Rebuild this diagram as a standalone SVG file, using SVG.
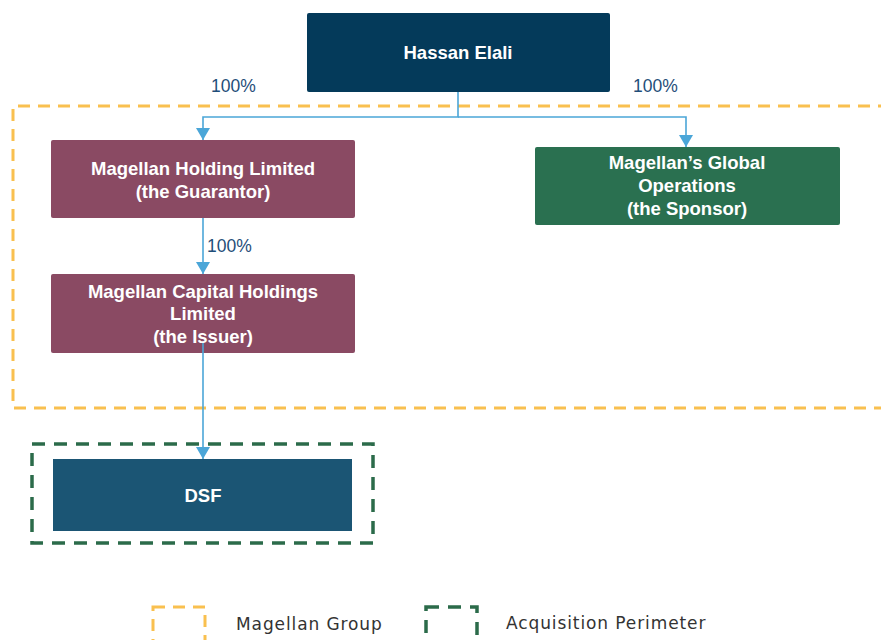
<svg xmlns="http://www.w3.org/2000/svg" width="881" height="640" viewBox="0 0 881 640">
<defs>
<style>
.box{stroke:none}
.t{font-family:"Liberation Sans",Arial,sans-serif;font-weight:bold;font-size:18.5px;fill:#fff;text-anchor:middle}
.pct{font-family:"Liberation Sans",Arial,sans-serif;font-size:17.5px;fill:#1F4E79}
.leg{font-family:"DejaVu Sans",sans-serif;font-size:17px;letter-spacing:0.9px;fill:#333}
.conn{fill:none;stroke:#4BA6D8;stroke-width:1.6}
.og{fill:none;stroke:#F9C04F;stroke-width:3;stroke-dasharray:12 8}
.gg{fill:none;stroke:#2B6B4A;stroke-width:3.5;stroke-dasharray:13 9}
</style>
<marker id="ah2" viewBox="0 0 12 14" refX="12" refY="7" markerWidth="12" markerHeight="14" markerUnits="userSpaceOnUse" orient="auto">
<path d="M0,0 L12,7 L0,14 z" fill="#4BA6D8"/>
</marker>
</defs>
<rect width="881" height="640" fill="#fff"/>
<g id="magellan-group-boundary">
<path class="og" d="M890,106 H13 V408 H890"/>
</g>
<g id="acquisition-perimeter">
<rect class="gg" x="32" y="444" width="341" height="99"/>
</g>
<g id="hassan">
<rect class="box" x="307" y="13" width="303" height="79" rx="2" fill="#043A5A"/>
<text class="t" x="458" y="59">Hassan Elali</text>
</g>
<g id="holding">
<rect class="box" x="51" y="140" width="304" height="78" rx="2" fill="#8A4A63"/>
<text class="t" x="203" y="175">Magellan Holding Limited</text>
<text class="t" x="203" y="198">(the Guarantor)</text>
</g>
<g id="global-ops">
<rect class="box" x="535" y="147" width="305" height="78" rx="2" fill="#2A7050"/>
<text class="t" x="687" y="169">Magellan’s Global</text>
<text class="t" x="687" y="192">Operations</text>
<text class="t" x="687" y="215">(the Sponsor)</text>
</g>
<g id="capital">
<rect class="box" x="51" y="274" width="304" height="79" rx="2" fill="#8A4A63"/>
<text class="t" x="203" y="298">Magellan Capital Holdings</text>
<text class="t" x="203" y="320">Limited</text>
<text class="t" x="203" y="343">(the Issuer)</text>
</g>
<g id="dsf">
<rect class="box" x="53" y="459" width="299" height="72" fill="#1B5574"/>
<text class="t" x="203" y="502">DSF</text>
</g>
<g id="connectors">
<path class="conn" d="M458,92 V117 H203 V140" marker-end="url(#ah2)"/>
<path class="conn" d="M458,117 H686 V147" marker-end="url(#ah2)"/>
<path class="conn" d="M203,218 V274" marker-end="url(#ah2)"/>
<path class="conn" d="M203,343 V459" marker-end="url(#ah2)"/>
<text class="pct" x="211" y="92">100%</text>
<text class="pct" x="633" y="92">100%</text>
<text class="pct" x="207" y="252">100%</text>
</g>
<g id="legend">
<rect class="og" x="153" y="607" width="52" height="50"/>
<text class="leg" x="236" y="630">Magellan Group</text>
<rect class="gg" x="426" y="607" width="51" height="50"/>
<text class="leg" x="506" y="629">Acquisition Perimeter</text>
</g>
</svg>
